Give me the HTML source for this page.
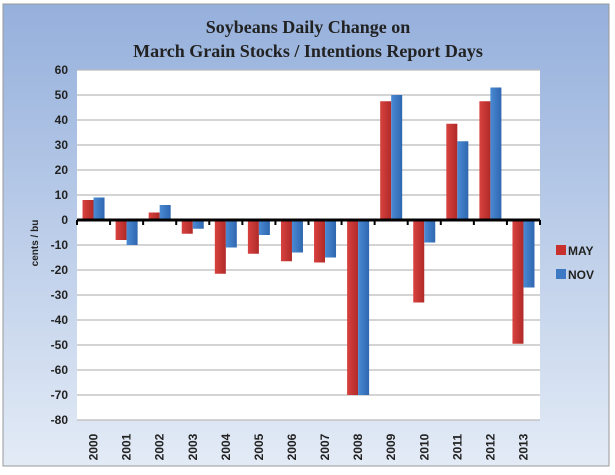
<!DOCTYPE html>
<html><head><meta charset="utf-8"><style>
body{margin:0;width:615px;height:470px;overflow:hidden;background:#fff;font-family:"Liberation Sans",sans-serif}
</style></head><body>
<svg id="c" width="615" height="470" xmlns="http://www.w3.org/2000/svg">
<defs>
<linearGradient id="bg" x1="0" y1="0" x2="0" y2="1"><stop offset="0" stop-color="#95b0dc"/><stop offset="1" stop-color="#e3ebf6"/></linearGradient>
<linearGradient id="gr" x1="0" y1="0" x2="1" y2="0"><stop offset="0" stop-color="#d8423f"/><stop offset="1" stop-color="#b02a28"/></linearGradient>
<linearGradient id="gb" x1="0" y1="0" x2="1" y2="0"><stop offset="0" stop-color="#4a8ad4"/><stop offset="1" stop-color="#2f67b0"/></linearGradient>
</defs>
<rect x="3" y="4" width="606" height="462" fill="url(#bg)" stroke="#999"/>
<text x="308" y="33" text-anchor="middle" font-family="Liberation Serif,serif" font-weight="bold" font-size="18" fill="#222">Soybeans Daily Change on</text>
<text x="308" y="57" text-anchor="middle" font-family="Liberation Serif,serif" font-weight="bold" font-size="18" fill="#222">March Grain Stocks / Intentions Report Days</text>
<rect x="77" y="70" width="463" height="350" fill="#fff"/>
<g id="grid"></g><g id="bars"></g><g id="axes"></g>
<text transform="translate(38,243) rotate(-90)" text-anchor="middle" font-size="10" font-weight="bold" fill="#222">cents / bu</text>
<rect x="556" y="245" width="10" height="10" fill="#c8302e"/>
<text x="568" y="255" font-size="12" font-weight="bold" fill="#222">MAY</text>
<rect x="556" y="269" width="10" height="10" fill="#3c78c4"/>
<text x="568" y="279" font-size="12" font-weight="bold" fill="#222">NOV</text>
</svg>
<script>
const categories=["2000","2001","2002","2003","2004","2005","2006","2007","2008","2009","2010","2011","2012","2013"];
const mayValues=[8,-8,3,-5.5,-21.5,-13.5,-16.5,-17,-70,47.5,-33,38.5,47.5,-49.5];
const novValues=[9,-10,6,-3.5,-11,-6,-13,-15,-70,50,-9,31.5,53,-27];
const yTicks=[60,50,40,30,20,10,0,-10,-20,-30,-40,-50,-60,-70,-80];
const NS="http://www.w3.org/2000/svg";
const L=77,R=540,T=70,B=420,ymax=60,ymin=-80;
const y=v=>T+(ymax-v)/(ymax-ymin)*(B-T);
const bw=(R-L)/categories.length;
const x=i=>L+bw*i;
function mk(t,a,p){const e=document.createElementNS(NS,t);for(const k in a)e.setAttribute(k,a[k]);p.appendChild(e);return e;}
const grid=document.getElementById('grid'),bars=document.getElementById('bars'),axes=document.getElementById('axes');
yTicks.forEach(v=>{
 const l=mk('line',{x1:L,x2:R,y1:y(v),y2:y(v),stroke:'#bbb','stroke-width':1.2},grid);
 
 
 const t=mk('text',{x:L-9,y:y(v)+4,'text-anchor':'end','font-size':12,'font-weight':'bold',fill:'#222'},axes);
 t.textContent=v;
 
 
});
const w=11;
categories.forEach((c,i)=>{
 const cx=x(i)+bw/2;
 [[mayValues[i],'url(#gr)',cx-w,'bar-may'],[novValues[i],'url(#gb)',cx,'bar-nov']].forEach(([v,f,bx,n])=>{
  const y0=y(Math.max(v,0)),h=Math.abs(y(v)-y(0));
  const r=mk('rect',{x:bx,y:y0,width:w,height:h,fill:f},bars);
  
  
 });
 const t=mk('text',{transform:`translate(${cx+4},${447}) rotate(-90)`,'text-anchor':'middle','font-size':12,'font-weight':'bold',fill:'#222'},axes);
 t.textContent=c;
 
 
 const tk=mk('line',{x1:x(i),x2:x(i),y1:y(0),y2:y(0)+5,stroke:'#000','stroke-width':2},axes);
 
 
});
const ax=mk('line',{x1:L,x2:R,y1:y(0),y2:y(0),stroke:'#000','stroke-width':3},axes);


const tk=mk('line',{x1:R,x2:R,y1:y(0),y2:y(0)+5,stroke:'#000','stroke-width':2},axes);


</script>
</body></html>
